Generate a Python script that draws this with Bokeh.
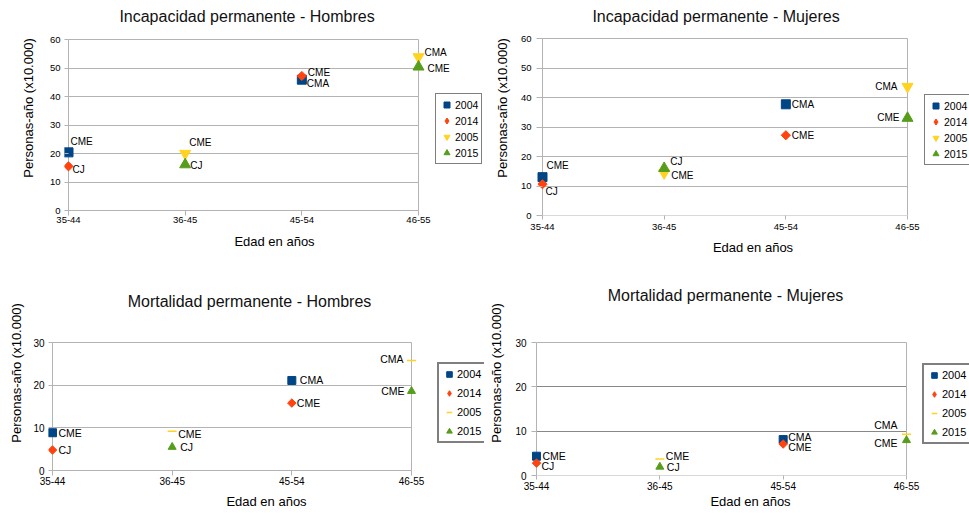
import math
from bokeh.plotting import figure
from bokeh.models import (ColumnDataSource, LabelSet, Label, Legend, LegendItem,
                          Range1d, FixedTicker, SingleIntervalTicker, Grid)
from bokeh.layouts import column, row
from bokeh.embed import file_html
from bokeh.resources import INLINE
from bokeh.core.properties import value, field

FONT = "Liberation Sans"

# ---------------- data ----------------
categories = ["35-44", "36-45", "45-54", "46-55"]
years = ["2004", "2014", "2005", "2015"]
cats_2004_2014 = ["35-44", "45-54"]
cats_2005_2015 = ["36-45", "46-55"]

# Incapacidad permanente - Hombres
inc_h_2004 = [20.4, 45.9]
inc_h_2014 = [15.5, 47.2]
inc_h_2005 = [20.0, 53.9]
inc_h_2015 = [16.1, 50.4]
inc_h_2004_lab = ["CME", "CMA"]
inc_h_2014_lab = ["CJ", "CME"]
inc_h_2005_lab = ["CME", "CMA"]
inc_h_2015_lab = ["CJ", "CME"]

# Incapacidad permanente - Mujeres
inc_m_2004 = [13.0, 37.7]
inc_m_2014 = [10.6, 27.2]
inc_m_2005 = [14.4, 43.7]
inc_m_2015 = [16.0, 33.0]
inc_m_2004_lab = ["CME", "CMA"]
inc_m_2014_lab = ["CJ", "CME"]
inc_m_2005_lab = ["CME", "CMA"]
inc_m_2015_lab = ["CJ", "CME"]

# Mortalidad permanente - Hombres
mor_h_2004 = [8.85, 21.1]
mor_h_2014 = [4.8, 15.8]
mor_h_2005 = [9.2, 25.8]
mor_h_2015 = [5.5, 18.6]
mor_h_2004_lab = ["CME", "CMA"]
mor_h_2014_lab = ["CJ", "CME"]
mor_h_2005_lab = ["CME", "CMA"]
mor_h_2015_lab = ["CJ", "CME"]

# Mortalidad permanente - Mujeres
mor_m_2004 = [4.35, 8.1]
mor_m_2014 = [2.8, 7.1]
mor_m_2005 = [3.75, 9.3]
mor_m_2015 = [1.95, 7.95]
mor_m_2004_lab = ["CME", "CMA"]
mor_m_2014_lab = ["CJ", "CME"]
mor_m_2005_lab = ["CME", "CMA"]
mor_m_2015_lab = ["CJ", "CME"]

# ---------------- styles ----------------
COLORS = {"2004": "#004586", "2014": "#ff420e", "2005": "#ffd320", "2015": "#579d1c"}
AXIS_GRAY = "#b3b3b3"

# label placement (dx px, dy px up, align) per point
OFF_P1 = {"2004": [(2, 11, "left"), (5, -4, "left")],
          "2014": [(4, -3, "left"), (6, 3, "left")],
          "2005": [(4, 11, "left"), (6, 4, "left")],
          "2015": [(5, -1, "left"), (9, -2, "left")]}
OFF_P2 = {"2004": [(4, 12, "left"), (6, 0, "left")],
          "2014": [(3, -7, "left"), (6, 0, "left")],
          "2005": [(7, -2, "left"), (-10, 0, "right")],
          "2015": [(6, 7, "left"), (-8, 1, "right")]}
OFF_P3 = {"2004": [(6, 0, "left"), (8, 0, "left")],
          "2014": [(6, 0, "left"), (5, 0, "left")],
          "2005": [(6, -3, "left"), (-8, 1, "right")],
          "2015": [(8, 0, "left"), (-7, 0, "right")]}
OFF_P4 = {"2004": [(6, 0, "left"), (5, 3, "left")],
          "2014": [(5, -3, "left"), (5, -3, "left")],
          "2005": [(6, 3, "left"), (-9, 9, "right")],
          "2015": [(7, 0, "left"), (-9, -3, "right")]}

# (marker, size, angle, legend marker)
TOP_MARK = {"2004": ("square", 9, 0, None), "2014": ("square", 6.5, math.pi / 4, "diamond"),
            "2005": ("inverted_triangle", 11, 0, None), "2015": ("triangle", 11, 0, None)}
BOT_MARK = {"2004": ("square", 8, 0, None), "2014": ("square", 6, math.pi / 4, "diamond"),
            "2005": ("dash", 9, 0, None), "2015": ("triangle", 8, 0, None)}


def build(title, series, offs, g):
    W, H = g["size"]
    L = g["frame_left"]
    fb = g["frame_bottom"]
    x0, x3 = g["x_px"]          # pixel of first / last category
    y0, ytop = g["y_px"]        # pixel of 0 / of ymax (from top)
    ymax = g["ymax"]
    ncat = len(categories) - 1
    pux = (x3 - x0) / ncat
    puy = (y0 - ytop) / ymax
    p = figure(width=W, height=H, min_border_left=L, min_border_right=0,
               min_border_top=0, min_border_bottom=H - fb,
               x_range=Range1d(-(x0 - L) / pux, ncat + (W - x3) / pux),
               y_range=Range1d(-(fb - y0) / puy - 1e-6, ymax + ytop / puy),
               output_backend="svg", toolbar_location=None, title=None,
               outline_line_color=None, background_fill_color="white",
               border_fill_color="white")

    # x axis (line drawn at value 0 by a grid line)
    xa = p.xaxis[0]
    xa.ticker = FixedTicker(ticks=list(range(len(categories))))
    xa.major_label_overrides = {i: c for i, c in enumerate(categories)}
    xa.bounds = (0, ncat)
    xa.axis_line_color = None
    xa.major_tick_line_color = AXIS_GRAY
    gap = fb - y0
    xa.major_tick_in = gap
    xa.major_tick_out = max(0, 4 - gap)
    xa.minor_tick_line_color = None
    xa.major_label_text_font = FONT
    xa.major_label_text_font_size = g["tick_font"]
    xa.major_label_text_color = "black"
    xa.major_label_standoff = g["x_std"]
    xa.axis_label = "Edad en años"
    xa.axis_label_text_font = FONT
    xa.axis_label_text_font_size = "13px"
    xa.axis_label_text_font_style = "normal"
    xa.axis_label_text_color = "black"
    xa.axis_label_standoff = g["x_als"]

    # y axis (line drawn at first category by a grid line)
    ya = p.yaxis[0]
    ya.ticker = SingleIntervalTicker(interval=10)
    ya.bounds = (0, ymax)
    ya.axis_line_color = None
    ya.major_tick_line_color = AXIS_GRAY
    ya.major_tick_in = x0 - L
    ya.major_tick_out = 0
    ya.minor_tick_line_color = None
    ya.major_label_text_font = FONT
    ya.major_label_text_font_size = g["tick_font"]
    ya.major_label_text_color = "black"
    ya.major_label_standoff = g["y_std"]
    ya.axis_label = "Personas-año (x10.000)"
    ya.axis_label_text_font = FONT
    ya.axis_label_text_font_size = "13px"
    ya.axis_label_text_font_style = "normal"
    ya.axis_label_text_color = "black"
    ya.axis_label_standoff = g["y_als"]

    # grids
    p.xgrid.grid_line_color = None
    p.ygrid.bounds = (0, ymax)
    p.ygrid.cross_bounds = (0, ncat)
    if g.get("dark_grid"):
        p.ygrid.ticker = FixedTicker(ticks=[10, 20])
        p.ygrid.grid_line_color = "#888888"
        p.add_layout(Grid(dimension=1, ticker=FixedTicker(ticks=[0, ymax]),
                          cross_bounds=(0, ncat), grid_line_color=AXIS_GRAY))
    else:
        p.ygrid.grid_line_color = AXIS_GRAY
    p.add_layout(Grid(dimension=0, ticker=FixedTicker(ticks=[0, ncat]),
                      cross_bounds=(0, ymax), grid_line_color=AXIS_GRAY))

    marks = g["marks"]
    items = []
    for yr in years:
        vals, labs = series[yr]
        cats = cats_2004_2014 if yr in ("2004", "2014") else cats_2005_2015
        xs = [categories.index(c) for c in cats]
        o = offs[yr]
        src = ColumnDataSource(dict(x=xs, y=vals, lab=labs,
                                    dx=[a[0] for a in o], dy=[a[1] for a in o],
                                    al=[a[2] for a in o]))
        mk, sz, ang, legmk = marks[yr]
        if mk == "dash":
            r = p.scatter("x", "y", source=src, marker=mk, size=sz,
                          line_color=COLORS[yr], line_width=1.5)
        else:
            r = p.scatter("x", "y", source=src, marker=mk, size=sz, angle=ang,
                          fill_color=COLORS[yr], line_color=COLORS[yr], line_width=1)
        leg_r = r
        if legmk is not None:
            # hidden twin renderer that only supplies the legend swatch
            leg_r = p.scatter("x", "y", source=src, marker=legmk, size=sz,
                              fill_color=COLORS[yr], line_color=COLORS[yr],
                              visible=False)
        items.append(LegendItem(label=yr, renderers=[leg_r]))
        p.add_layout(LabelSet(x="x", y="y", text="lab", source=src,
                              x_offset="dx", y_offset="dy",
                              text_align=field("al"), text_baseline="middle",
                              text_font=value(FONT), text_font_size=g["lab_font"],
                              text_color="black"))

    ls = g["legend"]
    leg = Legend(items=items, location=g["leg_loc"], orientation="vertical",
                 glyph_width=ls["gw"], glyph_height=ls["gh"], label_height=ls["gh"],
                 spacing=ls["sp"], padding=ls["pad"], margin=0,
                 label_standoff=ls["std"], label_text_font=FONT,
                 label_text_font_size=ls["font"], label_text_color="black",
                 border_line_color="black", border_line_width=ls["bw"],
                 background_fill_color="white", background_fill_alpha=1.0)
    p.add_layout(leg)

    p.add_layout(Label(x=g["title_xy"][0], y=g["title_xy"][1], x_units="screen",
                       y_units="screen", text=title, text_align="center",
                       text_baseline="middle", text_font=FONT,
                       text_font_size="16px", text_color="#111111"))
    return p


LEG_TOP = dict(gw=15, gh=15, sp=1, pad=3, std=1, font="10.5px", bw=1)
LEG_BOT = dict(gw=14, gh=14, sp=5, pad=3, std=1, font="11px", bw=2)

p1 = build("Incapacidad permanente - Hombres",
           {"2004": (inc_h_2004, inc_h_2004_lab), "2014": (inc_h_2014, inc_h_2014_lab),
            "2005": (inc_h_2005, inc_h_2005_lab), "2015": (inc_h_2015, inc_h_2015_lab)},
           OFF_P1,
           dict(size=(484, 270), frame_left=64, frame_bottom=215, x_px=(68, 418),
                y_px=(210, 39), ymax=60, tick_font="9.5px", lab_font="10px",
                y_std=0, y_als=11, x_std=1, x_als=8, title_xy=(182.5, 199),
                leg_loc=(371, 51), legend=LEG_TOP, marks=TOP_MARK))

p2 = build("Incapacidad permanente - Mujeres",
           {"2004": (inc_m_2004, inc_m_2004_lab), "2014": (inc_m_2014, inc_m_2014_lab),
            "2005": (inc_m_2005, inc_m_2005_lab), "2015": (inc_m_2015, inc_m_2015_lab)},
           OFF_P2,
           dict(size=(485, 270), frame_left=52, frame_bottom=215, x_px=(58, 423),
                y_px=(215, 38), ymax=60, tick_font="9.5px", lab_font="10px",
                y_std=1, y_als=8, x_std=4, x_als=7, title_xy=(179.5, 199),
                leg_loc=(388, 50), legend=LEG_TOP, marks=TOP_MARK))

p3 = build("Mortalidad permanente - Hombres",
           {"2004": (mor_h_2004, mor_h_2004_lab), "2014": (mor_h_2014, mor_h_2014_lab),
            "2005": (mor_h_2005, mor_h_2005_lab), "2015": (mor_h_2015, mor_h_2015_lab)},
           OFF_P3,
           dict(size=(484, 243), frame_left=48, frame_bottom=205, x_px=(52, 411),
                y_px=(200, 72), ymax=30, tick_font="10px", lab_font="10.5px",
                y_std=0, y_als=6, x_std=1, x_als=6, title_xy=(201, 174),
                leg_loc=(389, 32), legend=LEG_BOT, marks=BOT_MARK))

p4 = build("Mortalidad permanente - Mujeres",
           {"2004": (mor_m_2004, mor_m_2004_lab), "2014": (mor_m_2014, mor_m_2014_lab),
            "2005": (mor_m_2005, mor_m_2005_lab), "2015": (mor_m_2015, mor_m_2015_lab)},
           OFF_P4,
           dict(size=(485, 243), frame_left=47, frame_bottom=205, x_px=(52, 422),
                y_px=(205, 72), ymax=30, tick_font="10px", lab_font="10.5px",
                y_std=1, y_als=8, x_std=2, x_als=1, title_xy=(194, 180),
                leg_loc=(391, 31), legend=LEG_BOT, marks=BOT_MARK, dark_grid=True))

layout = column(row(p1, p2), row(p3, p4))
open("out.html", "w").write(file_html(layout, INLINE))
